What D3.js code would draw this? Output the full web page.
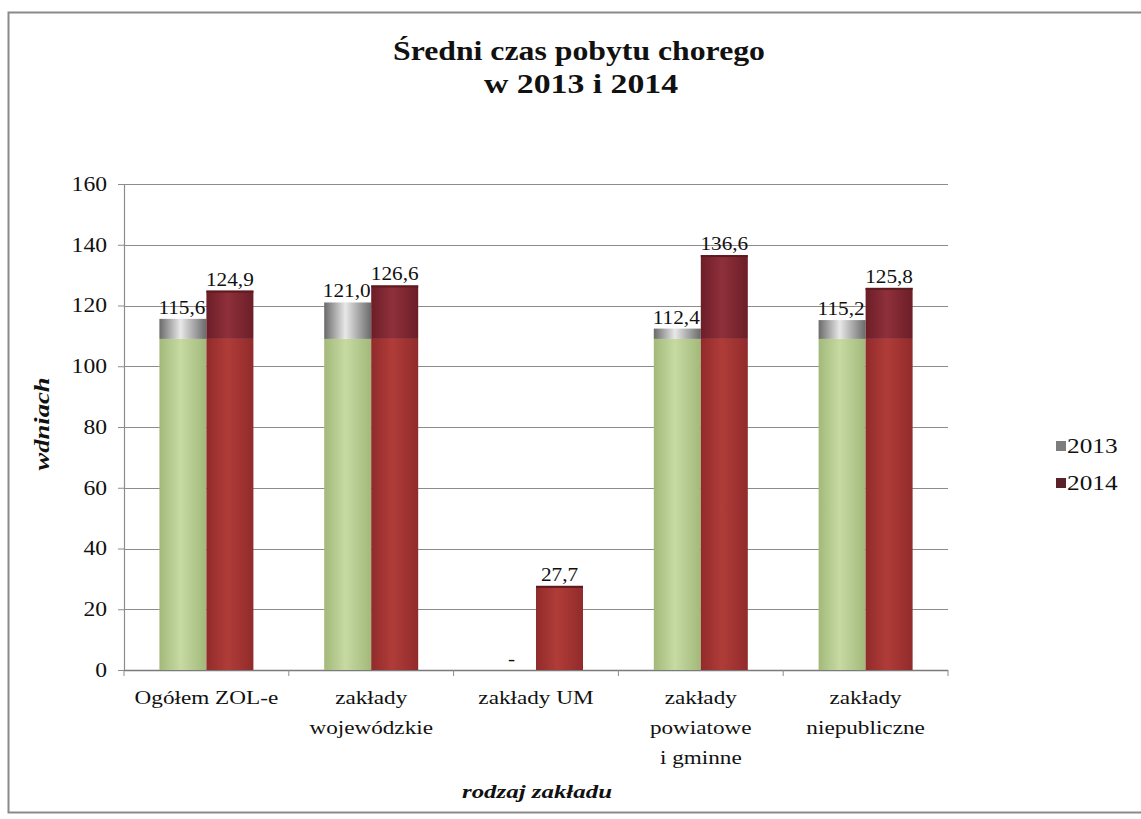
<!DOCTYPE html>
<html><head><meta charset="utf-8">
<script src="https://cdn.jsdelivr.net/npm/d3@7"></script>
<style>body{margin:0;background:#fff}svg{display:block}text{font-family:"Liberation Serif","Times New Roman",serif;fill:#111}</style>
</head><body><svg id="c" width="1141" height="819"></svg>
<script>
const categories = [["Ogółem ZOL-e"],["zakłady","wojewódzkie"],["zakłady UM"],["zakłady","powiatowe","i gminne"],["zakłady","niepubliczne"]];
const years = ["2013","2014"];
const values2013 = [115.6,121.0,0,112.4,115.2];
const values2014 = [124.9,126.6,27.7,136.6,125.8];
const labels2013 = ["115,6","121,0","-","112,4","115,2"];
const labels2014 = ["124,9","126,6","27,7","136,6","125,8"];
const yTicks = [0,20,40,60,80,100,120,140,160];

const svg = d3.select("#c");
const M = {l:124, r:948, t:184, b:670};
const x = d3.scaleBand().domain(d3.range(categories.length)).range([M.l,M.r]);
const y = d3.scaleLinear().domain([0,160]).range([M.b,M.t]);
const bw = 47;
const split = 109;
const STRETCH = 1.18;
function stretch(sel, f){ sel.each(function(){ const w=this.getComputedTextLength(); if(w>0){ d3.select(this).attr("textLength",w*(f||STRETCH)).attr("lengthAdjust","spacingAndGlyphs"); } }); }

// frame
svg.append("rect").attr("x",8.5).attr("y",12.5).attr("width",1150).attr("height",800).attr("fill","none").attr("stroke","#8a8a8a").attr("stroke-width",2);

const defs = svg.append("defs");
function grad(id, edge, mid){
  const g = defs.append("linearGradient").attr("id",id).attr("x1",0).attr("x2",1).attr("y1",0).attr("y2",0);
  g.append("stop").attr("offset","0%").attr("stop-color",edge);
  g.append("stop").attr("offset","45%").attr("stop-color",mid);
  g.append("stop").attr("offset","100%").attr("stop-color",edge);
}
grad("gGreen","#a3b97a","#c6daa2");
grad("gGray","#6a6a6a","#e8e8e8");
grad("gRedLow","#912b2b","#b03c38");
grad("gRedUp","#6c1e27","#8f303b");

// gridlines
svg.append("g").selectAll("line").data(yTicks.filter(d=>d>0)).join("line")
  .attr("x1",M.l).attr("x2",M.r).attr("y1",d=>Math.round(y(d))+0.5).attr("y2",d=>Math.round(y(d))+0.5)
  .attr("stroke","#8c8c8c").attr("stroke-width",1.2);

// y axis
const ya = svg.append("g").attr("transform",`translate(${M.l},0)`)
  .call(d3.axisLeft(y).tickValues(yTicks).tickSize(6).tickPadding(11));
ya.select(".domain").attr("stroke","#8c8c8c").attr("stroke-width",1.2);
ya.selectAll(".tick line").attr("stroke","#8c8c8c");
ya.selectAll(".tick text").attr("font-size",20).attr("font-family","Liberation Serif").attr("fill","#111");
stretch(ya.selectAll(".tick text"));

// x axis
const xa = svg.append("g").attr("transform",`translate(0,${M.b})`);
xa.append("line").attr("x1",M.l).attr("x2",M.r).attr("y1",0.5).attr("y2",0.5).attr("stroke","#7a7a7a").attr("stroke-width",1.4);
xa.selectAll("line.tk").data(d3.range(categories.length+1)).join("line").attr("class","tk")
  .attr("x1",i=>M.l+i*x.step()).attr("x2",i=>M.l+i*x.step()).attr("y1",0).attr("y2",6).attr("stroke","#8c8c8c");

// bars
const g = svg.append("g");
function drawBar(cx, v, lower, upper){
  if(v<=0) return;
  const yTop = y(v), ySplit = y(Math.min(split,v));
  g.append("rect").attr("x",cx).attr("y",ySplit).attr("width",bw).attr("height",y(0)-ySplit).attr("fill",`url(#${lower})`);
  if(v>split) g.append("rect").attr("x",cx).attr("y",yTop).attr("width",bw).attr("height",ySplit-yTop).attr("fill",`url(#${upper})`);
}
categories.forEach((c,i)=>{
  const cx = x(i)+x.bandwidth()/2;
  drawBar(cx-bw, values2013[i], "gGreen","gGray");
  drawBar(cx, values2014[i], "gRedLow","gRedUp");
  g.append("rect").attr("x",cx).attr("y",y(values2014[i])).attr("width",bw).attr("height",2).attr("fill","#5e1a20");
  g.append("text").attr("class","vl").attr("x",cx-bw/2-1).attr("y",y(values2013[i])-5).attr("text-anchor","middle").attr("font-size",18).text(labels2013[i]);
  g.append("text").attr("class","vl").attr("x",cx+bw/2).attr("y",y(values2014[i])-5).attr("text-anchor","middle").attr("font-size",18).text(labels2014[i]);
});
stretch(g.selectAll("text.vl"));

// category labels
categories.forEach((lines,i)=>{
  const cx = x(i)+x.bandwidth()/2;
  lines.forEach((ln,k)=>{
    svg.append("text").attr("class","cl").attr("x",cx).attr("y",704+k*30).attr("text-anchor","middle").attr("font-size",19).text(ln);
  });
});
stretch(svg.selectAll("text.cl"),1.22);

// titles
const t1 = svg.append("text").attr("x",579).attr("y",60).attr("text-anchor","middle").attr("font-size",28).attr("font-weight","bold").text("Średni czas pobytu  chorego");
const t2 = svg.append("text").attr("x",581).attr("y",93).attr("text-anchor","middle").attr("font-size",28).attr("font-weight","bold").text("w 2013 i  2014");
t1.attr("textLength",372).attr("lengthAdjust","spacingAndGlyphs");
t2.attr("textLength",194).attr("lengthAdjust","spacingAndGlyphs");
svg.append("text").attr("x",537).attr("y",798).attr("text-anchor","middle").attr("font-size",19).attr("font-weight","bold").attr("font-style","italic").attr("textLength",150).attr("lengthAdjust","spacingAndGlyphs").text("rodzaj zakładu");
svg.append("text").attr("transform","translate(49,424) rotate(-90)").attr("text-anchor","middle").attr("font-size",20).attr("font-weight","bold").attr("font-style","italic").attr("textLength",93).attr("lengthAdjust","spacingAndGlyphs").text("wdniach");

// legend
const legColors = ["#7d7d7d","#5a2228"];
years.forEach((yr,k)=>{
  const ly = 441 + k*37;
  svg.append("rect").attr("x",1056).attr("y",ly).attr("width",10).attr("height",10).attr("fill",legColors[k]);
  svg.append("text").attr("class","lg").attr("x",1067).attr("y",ly+12).attr("font-size",22).text(yr);
});
stretch(svg.selectAll("text.lg"),1.15);
</script></body></html>
